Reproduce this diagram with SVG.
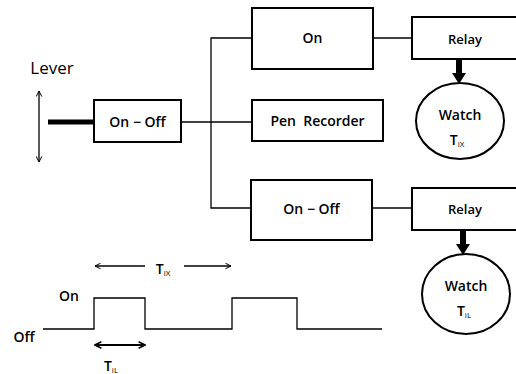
<svg xmlns="http://www.w3.org/2000/svg" width="516" height="374" viewBox="0 0 516 374">
<style>
.box{fill:#fff;stroke:#000;stroke-width:2}
.ln{fill:none;stroke:#000;stroke-width:1.3}
.t{font-family:"Open Sans","Liberation Sans",sans-serif;font-size:14px;font-weight:600;fill:#000;text-anchor:middle;white-space:pre}
.s{font-size:8px;font-weight:400}
</style>
<defs>
<marker id="ah" viewBox="0 0 10 10" refX="9" refY="5" markerWidth="7" markerHeight="7" orient="auto-start-reverse" markerUnits="userSpaceOnUse">
<path d="M1,1 L9,5 L1,9" fill="none" stroke="#000" stroke-width="1.4"/>
</marker>
<marker id="ahb" viewBox="0 0 10 10" refX="9" refY="5" markerWidth="8" markerHeight="8" orient="auto-start-reverse" markerUnits="userSpaceOnUse">
<path d="M1,1 L9,5 L1,9" fill="none" stroke="#000" stroke-width="2"/>
</marker>
</defs>
<g id="connectors">
<line class="ln" x1="181" y1="122" x2="252" y2="122"/>
<polyline class="ln" points="252,38 211,38 211,208 251,208"/>
<line class="ln" x1="373" y1="38" x2="412" y2="38"/>
<line class="ln" x1="372" y1="208" x2="412" y2="208"/>
<line x1="48" y1="122" x2="94" y2="122" stroke="#000" stroke-width="5"/>
<line x1="459" y1="59" x2="459" y2="74" stroke="#000" stroke-width="6"/>
<polygon points="452,73 466,73 459,84" fill="#000"/>
<line x1="463" y1="230" x2="463" y2="245" stroke="#000" stroke-width="6"/>
<polygon points="456,244 470,244 463,255" fill="#000"/>
</g>
<g id="lever">
<text x="52" y="74" class="t" style="font-size:17px;font-weight:500">Lever</text>
<line class="ln" x1="39" y1="91" x2="39" y2="162" marker-start="url(#ah)" marker-end="url(#ah)"/>
</g>
<g id="onoff1"><rect class="box" x="94" y="100" width="87" height="42"/><text x="137.5" y="127" class="t" xml:space="preserve">On − Off</text></g>
<g id="on"><rect class="box" x="252" y="8" width="121" height="61"/><text x="312.5" y="43" class="t">On</text></g>
<g id="pen"><rect class="box" x="252" y="100" width="131" height="41"/><text x="317.5" y="126" class="t" xml:space="preserve">Pen  Recorder</text></g>
<g id="onoff2"><rect class="box" x="251" y="180" width="121" height="60"/><text x="311.5" y="214" class="t" xml:space="preserve">On − Off</text></g>
<g id="relay1"><rect class="box" x="412" y="17" width="110" height="42"/><text x="465" y="44" class="t" style="font-size:13px">Relay</text></g>
<g id="relay2"><rect class="box" x="412" y="188" width="110" height="42"/><text x="465" y="214" class="t" style="font-size:13px">Relay</text></g>
<g id="watch1"><ellipse class="box" cx="460" cy="121" rx="44" ry="38"/><text x="460" y="120" class="t">Watch</text><text x="457" y="145" class="t">T<tspan class="s" dy="2">iX</tspan></text></g>
<g id="watch2"><ellipse class="box" cx="466" cy="294" rx="44" ry="40"/><text x="466" y="291" class="t">Watch</text><text x="464" y="316" class="t">T<tspan class="s" dy="2">iL</tspan></text></g>
<g id="waveform">
<polyline class="ln" points="43,329 94,329 94,298 145,298 145,329 232,329 232,298 297,298 297,329 382,329"/>
<text x="69" y="301" class="t">On</text>
<text x="24" y="342" class="t">Off</text>
<line class="ln" x1="95" y1="266" x2="145" y2="266" marker-start="url(#ah)"/>
<line class="ln" x1="184" y1="266" x2="231" y2="266" marker-end="url(#ah)"/>
<text x="163" y="274" class="t">T<tspan class="s" dy="2">iX</tspan></text>
<line x1="95" y1="345" x2="145" y2="345" stroke="#000" stroke-width="2" marker-start="url(#ahb)" marker-end="url(#ahb)"/>
<text x="111" y="371" class="t">T<tspan class="s" dy="2">iL</tspan></text>
</g>
</svg>
